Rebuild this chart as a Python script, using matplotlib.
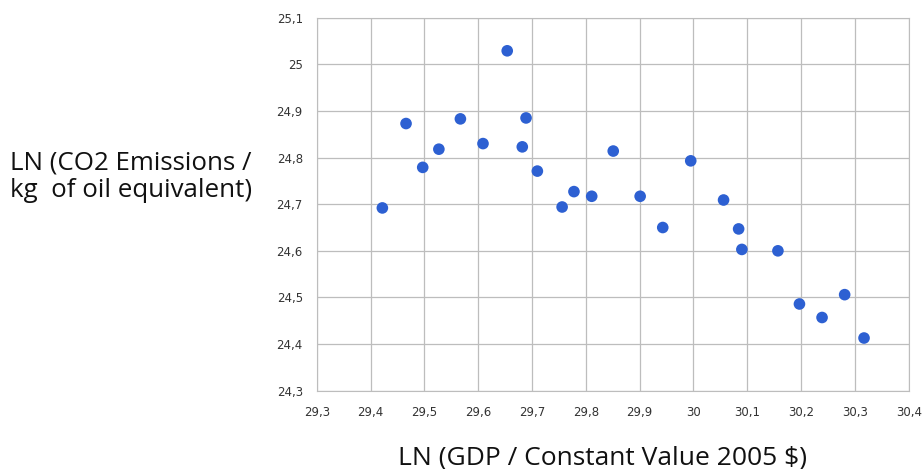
import matplotlib
matplotlib.use('Agg')
import matplotlib.pyplot as plt
from matplotlib.ticker import FuncFormatter

# LN(GDP) vs LN(CO2 emissions)
gdp = [29.422, 29.466, 29.497, 29.527, 29.567, 29.609, 29.654, 29.682, 29.689,
       29.710, 29.756, 29.778, 29.811, 29.851, 29.901, 29.943, 29.995, 30.056,
       30.084, 30.090, 30.157, 30.197, 30.239, 30.281, 30.317]
co2 = [24.692, 24.873, 24.779, 24.818, 24.883, 24.830, 25.029, 24.823, 24.885,
       24.771, 24.694, 24.727, 24.717, 24.814, 24.717, 24.650, 24.793, 24.709,
       24.647, 24.603, 24.600, 24.486, 24.457, 24.506, 24.413]
xticks = [29.3, 29.4, 29.5, 29.6, 29.7, 29.8, 29.9, 30.0, 30.1, 30.2, 30.3, 30.4]
yticks = [24.3, 24.4, 24.5, 24.6, 24.7, 24.8, 24.9, 25.0, 25.1]

fig = plt.figure(figsize=(9.24, 4.69), dpi=100)
ax = fig.add_axes([316.7/924, 1 - 390.7/469, 592/924, 373/469])

ax.scatter(gdp, co2, s=70, color='#2d60d2', edgecolors='none', zorder=3)

ax.set_xlim(29.3, 30.4)
ax.set_ylim(24.3, 25.1)
ax.set_xticks(xticks)
ax.set_yticks(yticks)

def comma(v, pos):
    s = ('%.1f' % v).rstrip('0').rstrip('.')
    return s.replace('.', ',')

ax.xaxis.set_major_formatter(FuncFormatter(comma))
ax.yaxis.set_major_formatter(FuncFormatter(comma))
ax.tick_params(length=0, labelsize=8.5, colors='#333333')
ax.tick_params(axis='x', pad=11)
ax.tick_params(axis='y', pad=10)
ax.grid(True, color='#bdbdbd', linewidth=0.9)
ax.set_axisbelow(True)
for sp in ax.spines.values():
    sp.set_color('#bdbdbd')

lab = dict(family='Open Sans', color='#111111')
fig.text(10/924, 1 - 169/469, 'LN (CO2 Emissions /', fontsize=18.6, ha='left', va='baseline', **lab)
fig.text(10/924, 1 - 197/469, 'kg  of oil equivalent)', fontsize=18.6, ha='left', va='baseline', **lab)
fig.text(602/924, 1 - 464/469, 'LN (GDP / Constant Value 2005 $)', fontsize=19, ha='center', va='baseline', **lab)

fig.savefig('out.png', dpi=100)
